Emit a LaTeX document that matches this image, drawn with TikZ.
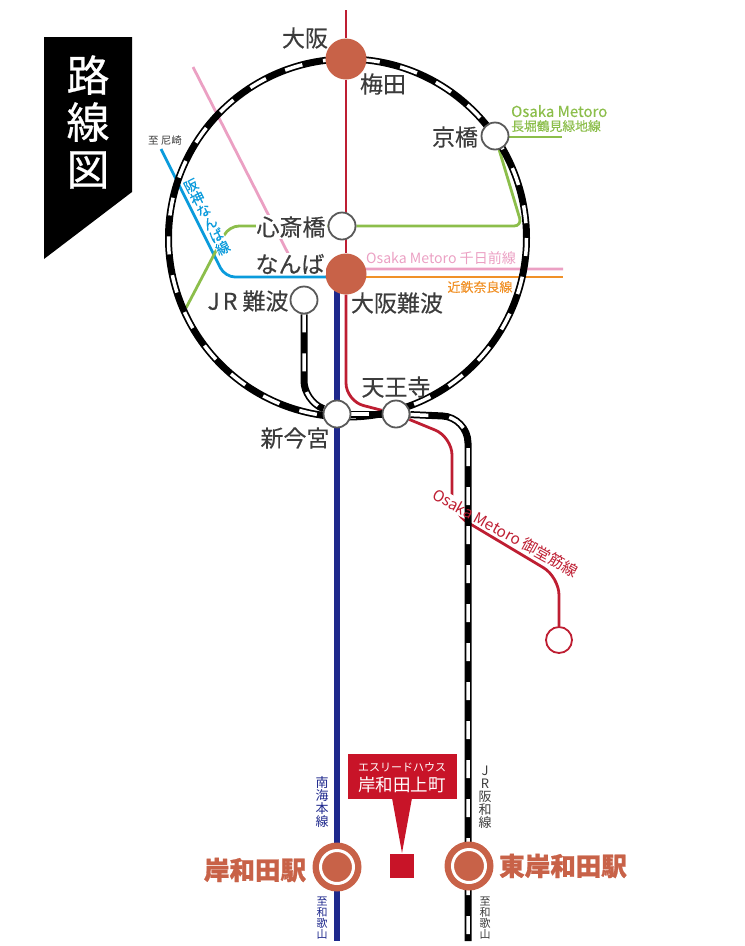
\documentclass[tikz,border=0pt]{standalone}
\usepackage{fontspec}
\setmainfont{Noto Sans CJK JP}
\usetikzlibrary{backgrounds}
\definecolor{terra}{RGB}{200,98,72}
\definecolor{metred}{RGB}{190,30,50}
\definecolor{nankai}{RGB}{30,40,140}
\definecolor{metgreen}{RGB}{140,190,75}
\definecolor{metpink}{RGB}{235,160,195}
\definecolor{kintetsu}{RGB}{240,145,40}
\definecolor{hanshin}{RGB}{10,155,220}
\definecolor{ink}{RGB}{60,60,60}
\definecolor{sitered}{RGB}{200,20,40}
\newcommand{\fsize}[1]{\fontsize{#1}{#1}\selectfont}
\newcommand{\rail}[1]{\draw[railbase] #1; \draw[raildash] #1;}
\tikzset{
  railbase/.style={line width=7pt,black},
  raildash/.style={line width=3.5pt,white,dash pattern=on 18pt off 21pt},
  thinline/.style={line width=2.8pt},
  openstation/.style={circle,draw=ink!85,line width=1.8pt,fill=white,inner sep=0pt,minimum size=27pt},
  bigstation/.style={circle,fill=terra,inner sep=0pt,minimum size=41pt},
  hubouter/.style={circle,fill=terra,inner sep=0pt,minimum size=49pt},
  hubinner/.style={circle,fill=terra,draw=white,line width=3pt,inner sep=0pt,minimum size=33pt},
  stationname/.style={text=ink,font=\fsize{23}\addfontfeature{FakeBold=0.3},inner sep=1pt},
  hubname/.style={text=terra,font=\fsize{25.5}\bfseries\addfontfeature{FakeBold=1},inner sep=0pt},
  linename/.style={font=\fsize{13}\addfontfeature{FakeBold=0.2},inner sep=0pt,align=left},
  stack/.style={align=center,inner sep=0pt},
}
\begin{document}
\begin{tikzpicture}[x=1pt,y=-1pt]
	  \useasboundingbox (0,0) rectangle (745,946);
	  \coordinate (ringcentre) at (347.5,238);
	  \coordinate (redtop) at (346,10);
	  \coordinate (pinktop) at (193,67);
	  \coordinate (pinkbend) at (296,269);
	  \coordinate (pinkend) at (563,269);
	  \coordinate (orangeend) at (563,277);
	  \coordinate (bluetop) at (161,149);
	  \coordinate (bluebend) at (225,277);
	  \coordinate (greenend) at (186,308);
	  \coordinate (greenleft) at (229,226);
	  \coordinate (greenright) at (522,226);
	  \coordinate (greenstub) at (562,137);
	  \coordinate (nankaitop) at (337,285);
	  \coordinate (nankaiend) at (337,941);
	  \coordinate (hanwabend) at (468,417);
	  \coordinate (hanwaend) at (468,941);
	  \coordinate (jrbend) at (304,401);
	  \coordinate (redbenda) at (346,401);
	  \coordinate (redbendb) at (452,437);
	  \coordinate (redbendc) at (452,513);
	  \coordinate (redbendd) at (559,577);
	  \node [bigstation] (umeda) at (346,59) {};
	  \node [bigstation] (namba) at (346,274) {};
	  \node [openstation] (shinsaibashi) at (342,226) {};
	  \node [openstation] (kyobashi) at (495,136) {};
	  \node [openstation] (jrnamba) at (304,300) {};
	  \node [openstation] (shinimamiya) at (337,414) {};
	  \node [openstation] (tennoji) at (396,414) {};
	  \node [circle,draw=metred,line width=1.8pt,fill=white,inner sep=0pt,minimum size=26pt] (midosuji) at (559,640) {};
	  \node [hubouter] (kishiwada) at (337,867) {};
	  \node [hubinner] at (kishiwada) {};
	  \node [hubouter] (higashi) at (469,866) {};
	  \node [hubinner] at (higashi) {};
	  \fill [black] (44,37) -- (132,37) -- (132,192) -- (44,259) -- cycle;
	  \node [text=white,font=\fsize{43}\addfontfeature{FakeBold=0.6},stack] (banner) at (88,122) {路\\[4pt]線\\[4pt]図};
	  \node [stationname] (osakaname) at (305,38) {大阪};
	  \node [stationname] (umedaname) at (383,84) {梅田};
	  \node [stationname] (kyobashiname) at (455,137) {京橋};
	  \node [stationname,fill=white] (shinsaibashiname) at (291,227) {心斎橋};
	  \node [stationname,fill=white] (nambaname) at (290,264) {なんば};
	  \node [stationname] (jrnambaname) at (248,301) {J\kern3pt R 難波};
	  \node [stationname] (osakanambaname) at (397,303) {大阪難波};
	  \node [stationname] (tennojiname) at (396,387) {天王寺};
	  \node [stationname] (shinimamiyaname) at (295,438) {新今宮};
	  \node [text=ink,font=\fsize{10.5},inner sep=0pt] (amagasaki) at (165,141) {至 尼崎};
	  \node [linename,text=metgreen,anchor=west] (greenname) at (511,118.5) {{\fsize{15}Osaka Metoro}\\[1pt]{\fsize{12.8}長堀鶴見緑地線}};
	  \node [linename,text=metpink,anchor=west,font=\fsize{14.1}] (pinkname) at (366,258) {Osaka Metoro 千日前線};
	  \node [linename,text=kintetsu] (orangename) at (480,287) {近鉄奈良線};
	  \node [linename,text=metred,rotate=-29,font=\fsize{15.4}] (redname) at (505.5,533) {Osaka Metoro 御堂筋線};
	  \node [stack,text=hanshin,fill=white,font=\fsize{14}\addfontfeature{FakeBold=0.2},rotate=27] (bluename) at (207,217) {阪\\神\\な\\ん\\ば\\線};
	  \node [stack,text=nankai,font=\fsize{13}] (nankainame) at (322,802) {南\\海\\本\\線};
	  \node [stack,text=nankai,font=\fsize{11}] (nankaito) at (322,918) {至\\和\\歌\\山};
	  \node [stack,text=ink,font=\fsize{13}] (hanwaname) at (485,797) {J\\R\\阪\\和\\線};
	  \node [stack,text=ink,font=\fsize{11}] (hanwato) at (485,918) {至\\和\\歌\\山};
	  \node [hubname] (kishiwadaname) at (255,870) {岸和田駅};
	  \node [hubname] (higashiname) at (563,866) {東岸和田駅};
	  \node [fill=sitered,inner sep=0pt,minimum size=24pt] (site) at (402,866) {};
	  \node [fill=sitered,inner sep=0pt,minimum width=109pt,minimum height=45pt] (balloon) at (402.5,776.5) {};
	  \fill [sitered] (392,798) -- (412,798) -- (402,853) -- cycle;
	  \node [text=white,font=\fsize{11},inner sep=0pt] (balloontop) at (402,767) {エスリードハウス};
	  \node [text=white,font=\fsize{17.5},inner sep=0pt] (balloonname) at (402,785) {岸和田上町};
	  \begin{scope}[on background layer]
	  \draw [metpink,thinline] (pinktop) -- (pinkbend) -- (pinkend);
	  \draw [kintetsu,thinline] (namba |- orangeend) -- (orangeend);
	  \draw [hanshin,thinline,rounded corners=10pt] (bluetop) -- (bluebend) -- (namba |- bluebend);
	  \draw [metgreen,thinline] (kyobashi |- greenstub) -- (greenstub);
	  \draw [metgreen,thinline,rounded corners=8pt] (kyobashi) -- (greenright) -- (shinsaibashi);
	  \draw [metgreen,thinline,rounded corners=10pt] (shinsaibashi) -- (greenleft) -- (greenend);
	  \draw [nankai,line width=6pt] (nankaitop) -- (nankaiend);
	  \draw [metred,thinline] (redtop) -- (umeda);
	  \draw [metred,thinline] (umeda) -- (namba);
	  \draw [metred,thinline,rounded corners=18pt] (namba) -- (redbenda) -- (tennoji);
	  \draw [metred,thinline,rounded corners=18pt] (tennoji) -- (redbendb) -- (redbendc) -- (redbendd) -- (midosuji);
	  \draw [white,line width=15pt] (redname.west) -- (redname.east);
	  \rail{(ringcentre) circle (179)}
	  \rail{[rounded corners=20pt] (jrnamba) -- (jrbend) -- (shinimamiya)}
	  \rail{(shinimamiya) -- (tennoji)}
	  \rail{[rounded corners=26pt] (tennoji) -- (hanwabend) -- (hanwaend)}
	  \end{scope}
	 \end{tikzpicture}
\end{document}
